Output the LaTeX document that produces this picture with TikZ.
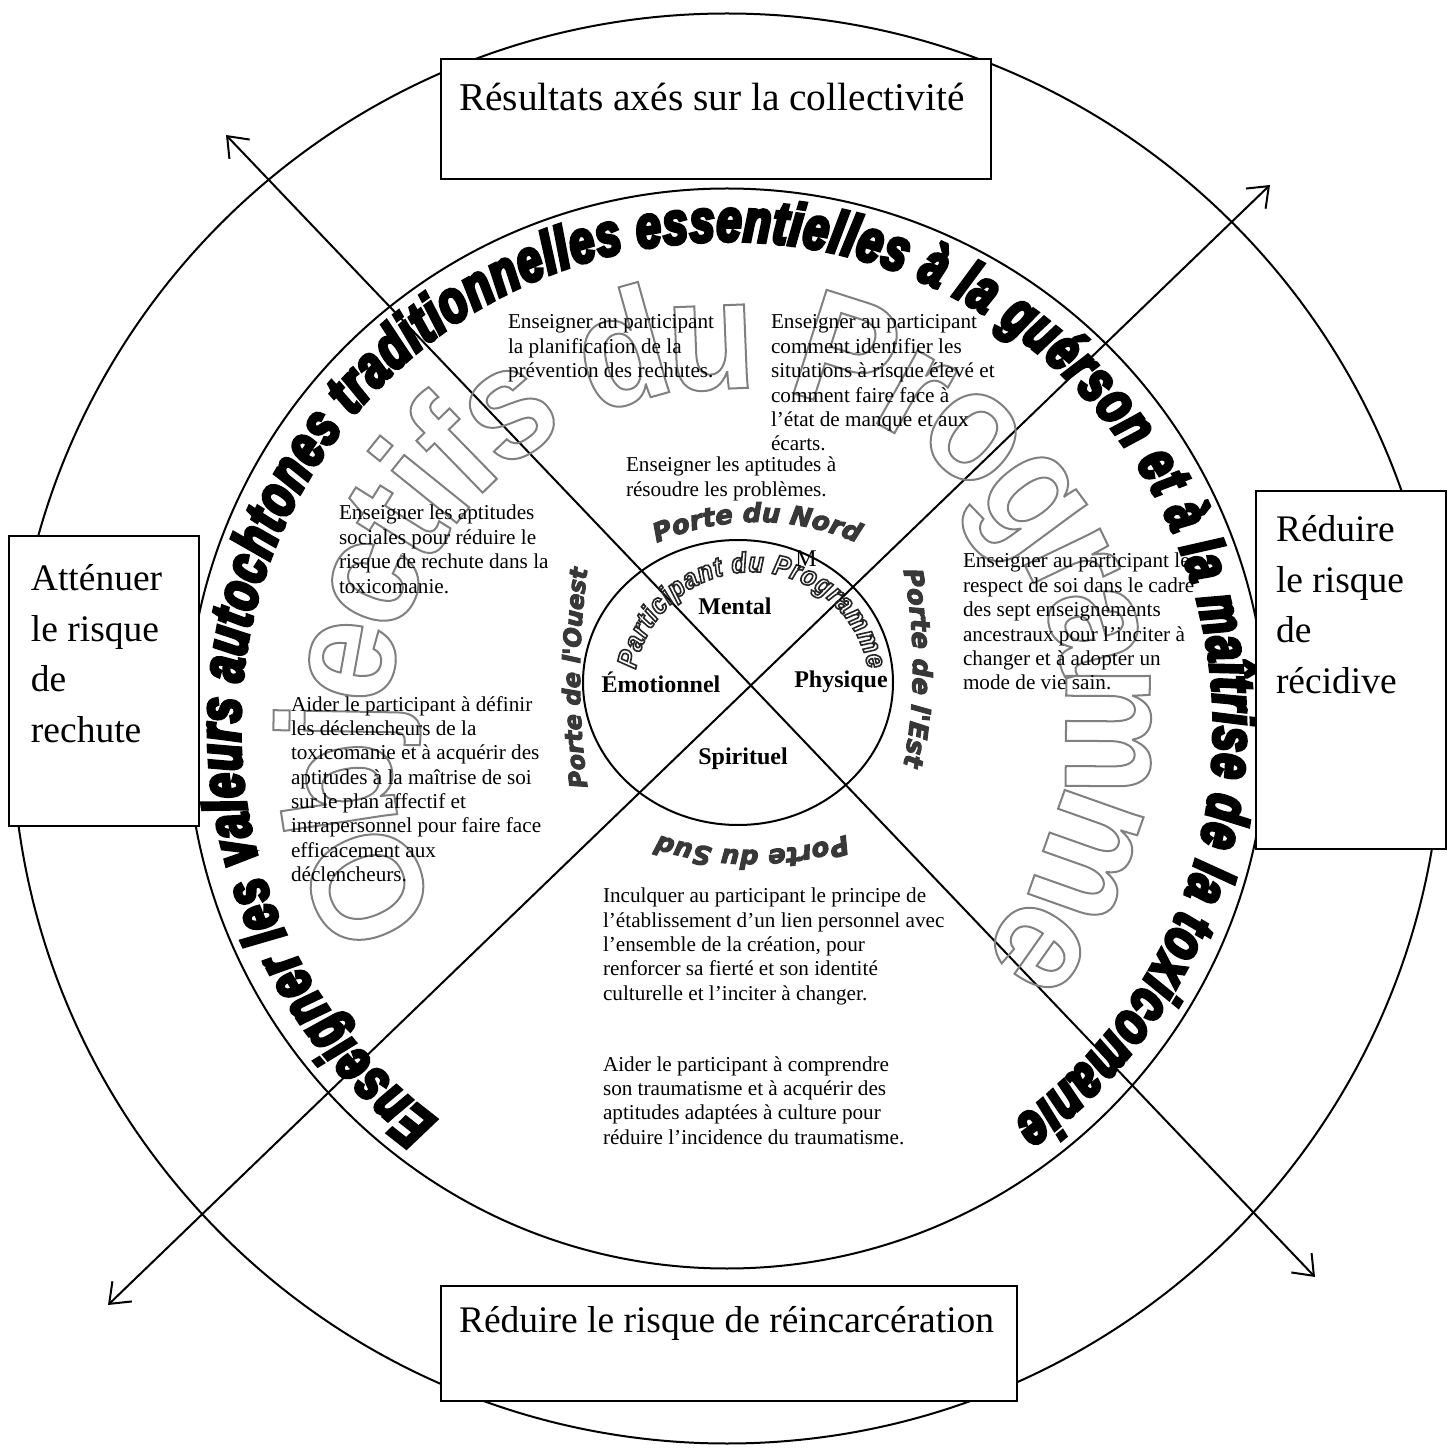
\documentclass[tikz,border=0pt]{standalone}
\usepackage{fontspec}
\setmainfont{Liberation Serif}
\newfontfamily\ringfont[FakeStretch=0.74]{Liberation Sans}
\newfontfamily\objfont[FakeStretch=0.92]{Liberation Sans}
\newfontfamily\partfont[FakeStretch=0.9]{Liberation Sans}
\newfontfamily\portefont{DejaVu Sans}
\usetikzlibrary{decorations.text,arrows.meta}
\protected\def\trfill#1{\special{pdf:literal direct 2 Tr #1 w}}
\protected\def\trstroke#1{\special{pdf:literal direct 1 Tr #1 w}}
\protected\def\ringfmt{\ringfont\bfseries\itshape\fontsize{30pt}{34pt}\selectfont\trfill{1.8}}
\protected\def\objfmt{\objfont\bfseries\fontsize{79pt}{82pt}\selectfont\color{black!50}\trstroke{1}}
\protected\def\partfmt{\partfont\bfseries\itshape\fontsize{14pt}{16pt}\selectfont\color{black!85}\trstroke{0.8}}
\protected\def\portefmt{\portefont\bfseries\itshape\fontsize{13pt}{15pt}\selectfont\color{black!78}\trfill{0.5}}
\protected\def\portefms{\portefont\bfseries\itshape\fontsize{12pt}{14pt}\selectfont\color{black!78}\trfill{0.5}}
\newcommand\firstln{\rule{0pt}{1em}}
\tikzset{
  blk/.style={align=left, anchor=north west, inner sep=0pt, font=\fontsize{10.6pt}{12.2pt}\selectfont},
  boxtxt/.style={align=left, anchor=north west, inner sep=0pt, font=\fontsize{18.75pt}{25.5pt}\selectfont},
  frame/.style={draw, fill=white, line width=1pt, inner sep=0pt, anchor=north west},
  quad/.style={font=\bfseries\fontsize{12pt}{14pt}\selectfont, inner sep=0pt, anchor=base},
  arr/.style={line width=1pt, {Straight Barb[length=9pt,width=14pt]}-{Straight Barb[length=9pt,width=14pt]}},
  ringtxt/.style={decorate, decoration={text along path, text align={fit to path}, text={#1}}},
  objtxt/.style={decorate, decoration={text along path, text align={fit to path}, raise=-28pt, text={#1}}},
  portetxt/.style={decorate, decoration={text along path, text align=center, text={#1}}},
}
\begin{document}
\begin{tikzpicture}[x=0.5pt,y=-0.5pt, line width=1pt]
\useasboundingbox (0,0) rectangle (1453,1449);
% circles
\draw (727,728.5) circle[radius=715];
\draw (727,728.5) circle[radius=540];
% crossing arrows
\coordinate (a1) at (226,135);
\coordinate (a2) at (1315,1277);
\coordinate (b1) at (108,1305);
\coordinate (b2) at (1270,185);
\draw[arr] (a1) -- (a2);
\draw[arr] (b1) -- (b2);
% small ellipse
\draw (738,682.5) ellipse[x radius=155, y radius=142.5];
% outlined watermark text
\path[objtxt={|\objfmt|Objectifs du Programme}] (727,728) ++(-212:395) arc[start angle=-212, end angle=41, radius=395];
% ring text
\path[ringtxt={|\ringfmt|Enseigner les valeurs autochtones traditionnelles essentielles à la guérson et à la maîtrise de la toxicomanie}] (727,728) ++(-233.5:487) arc[start angle=-233.5, end angle=54, radius=487];
% participant
\path[ringtxt={|\partfmt|Participant du Programme}] (752,690) ++(-170:118) arc[start angle=-170, end angle=-10, radius=118];
% portes
\path[portetxt={|\portefmt|Porte du Nord}] (757,772) ++(-125:250) arc[start angle=-125, end angle=-55, radius=250];
\path[portetxt={|\portefmt|Porte de l'Est}] (413,668) ++(-15:500) arc[start angle=-15, end angle=15, radius=500];
\path[portetxt={|\portefmt|Porte du Sud}] (752,550) ++(50:300) arc[start angle=50, end angle=130, radius=300];
\path[portetxt={|\portefms|Porte de l'Ouest}] (1380,678) ++(-190:800) arc[start angle=-190, end angle=-170, radius=800];
% quadrant words
\node[quad] (qM) at (735,615) {Mental};
\node[quad] (qE) at (661,693) {Émotionnel};
\node[quad] (qP) at (841,688) {Physique};
\node[quad] (qS) at (743,765) {Spirituel};
\node[quad, font=\fontsize{12pt}{14pt}\selectfont] (qX) at (806,567) {M};
% boxes
\node[frame, minimum width=275pt, minimum height=60pt] (bN) at (440,58) {};
\node[frame, minimum width=95pt, minimum height=145pt] (bW) at (8,535) {};
\node[frame, minimum width=95pt, minimum height=179pt] (bE) at (1255,490) {};
\node[frame, minimum width=288pt, minimum height=57.5pt] (bS) at (440,1285) {};
\node[boxtxt, font=\fontsize{19.7pt}{25.5pt}\selectfont] (tN) at (458,70) {\firstln Résultats axés sur la collectivité};
\node[boxtxt] (tW) at (30,551.5) {\firstln Atténuer\\le risque\\de\\rechute};
\node[boxtxt] (tE) at (1275,502.5) {\firstln Réduire\\le risque\\de\\récidive};
\node[boxtxt] (tS) at (458,1293.5) {\firstln Réduire le risque de réincarcération};
% text blocks
\node[blk] (tA) at (507,306.8) {\firstln Enseigner au participant\\la planification de la\\prévention des rechutes.};
\node[blk] (tB) at (770,306.8) {\firstln Enseigner au participant\\comment identifier les\\situations à risque élevé et\\comment faire face à\\l’état de manque et aux\\écarts.};
\node[blk] (tC) at (625,449.8) {\firstln Enseigner les aptitudes à\\résoudre les problèmes.};
\node[blk] (tD) at (338,497.8) {\firstln Enseigner les aptitudes\\sociales pour réduire le\\risque de rechute dans la\\toxicomanie.};
\node[blk] (tE2) at (290,688.8) {\firstln Aider le participant à définir\\les déclencheurs de la\\toxicomanie et à acquérir des\\aptitudes à la maîtrise de soi\\sur le plan affectif et\\intrapersonnel pour faire face\\efficacement aux\\déclencheurs.};
\node[blk] (tH) at (962,545.8) {\firstln Enseigner au participant le\\respect de soi dans le cadre\\des sept enseignements\\ancestraux pour l’inciter à\\changer et à adopter un\\mode de vie sain.};
\node[blk] (tF) at (602,880.5) {\firstln Inculquer au participant le principe de\\l’établissement d’un lien personnel avec\\l’ensemble de la création, pour\\renforcer sa fierté et son identité\\culturelle et l’inciter à changer.};
\node[blk] (tG) at (602,1048.8) {\firstln Aider le participant à comprendre\\son traumatisme et à acquérir des\\aptitudes adaptées à culture pour\\réduire l’incidence du traumatisme.};
\end{tikzpicture}
\end{document}
